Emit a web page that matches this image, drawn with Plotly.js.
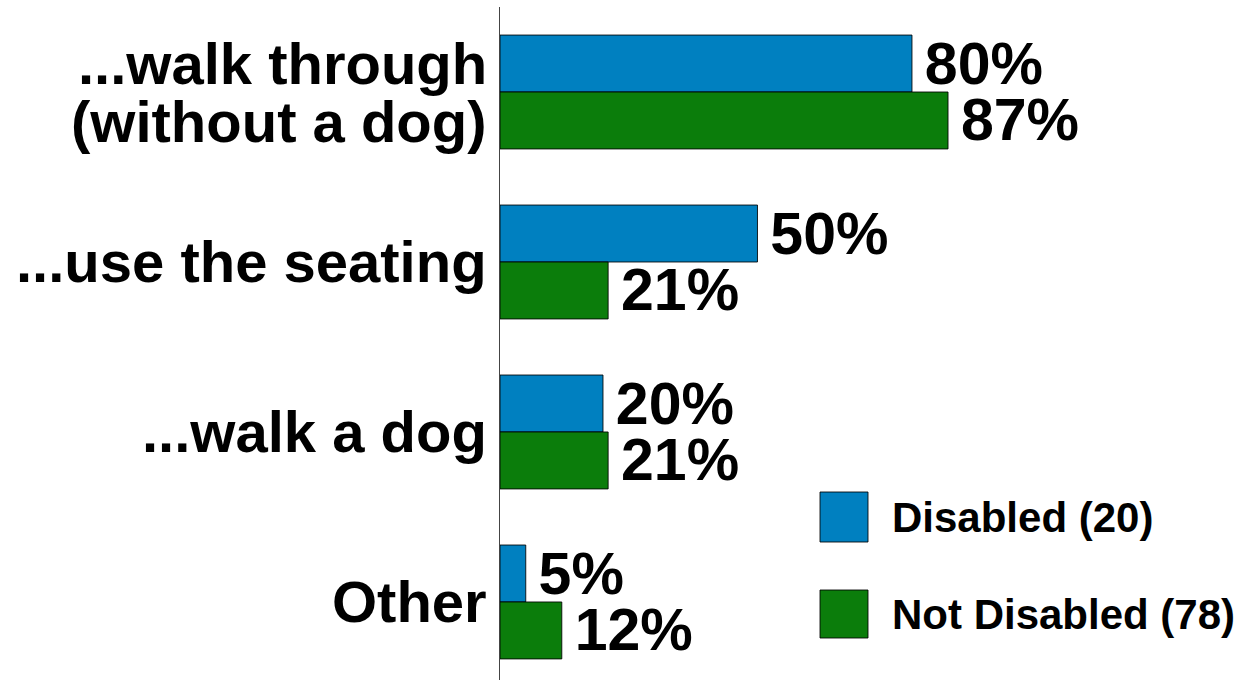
<!DOCTYPE html>
<html>
<head>
<meta charset="utf-8">
<script src="https://cdn.plot.ly/plotly-3.0.1.min.js"></script>
<style>html,body{margin:0;padding:0;background:#fff;}#chart{width:1240px;height:680px;}</style>
</head>
<body>
<div id="chart"></div>
<script>
// ---- data ----
var categories = ["walk_through", "seating", "walk_dog", "other"];
var categoryLabels = [["...walk through", "(without a dog)"], ["...use the seating"], ["...walk a dog"], ["Other"]];
var seriesNames = ["Disabled (20)", "Not Disabled (78)"];
var disabledValues = [80, 50, 20, 5];
var notDisabledValues = [87, 21, 21, 12];

// ---- style ----
var W = 1240, H = 680;
var M = {l: 500, r: 0, t: 7, b: 0};
var FONT = "Liberation Sans, Arial, Helvetica, sans-serif";
var colBlue = "rgb(0,128,192)";
var colGreen = "rgb(11,125,11)";
function px2x(p) { return (p - M.l) / (W - M.l - M.r); }
function px2y(p) { return 1 - (p - M.t) / (H - M.t - M.b); }

function mkTrace(name, vals, color) {
  return {
    type: "bar", orientation: "h", name: name,
    y: categories, x: vals,
    marker: {color: color, line: {color: "rgba(0,0,0,0.85)", width: 1}},
    text: vals.map(function (v) { return "\u200A\u200A" + v + "%"; }),
    textposition: "outside", cliponaxis: false, constraintext: "none",
    textfont: {family: FONT, size: 59, color: "#000", weight: "bold"},
    hoverinfo: "none"
  };
}

var traces = [
  mkTrace(seriesNames[0], disabledValues, colBlue),
  mkTrace(seriesNames[1], notDisabledValues, colGreen)
];

var annotations = [];
categories.forEach(function (c, i) {
  var lines = categoryLabels[i];
  var n = lines.length;
  lines.forEach(function (t, j) {
    annotations.push({
      text: t, xref: "paper", x: 0, xanchor: "right", xshift: -11,
      yref: "y", y: c, yanchor: "middle", yshift: ((n - 1) / 2 - j) * 58,
      showarrow: false, font: {family: FONT, size: 58, color: "#000", weight: "bold"}
    });
  });
});

// legend (drawn manually for large swatches)
var legendRows = [{y0: 492, y1: 542, color: colBlue}, {y0: 590, y1: 638, color: colGreen}];
var shapes = [];
legendRows.forEach(function (r, i) {
  shapes.push({type: "rect", xref: "paper", yref: "paper",
    x0: px2x(820), x1: px2x(868), y0: px2y(r.y1), y1: px2y(r.y0),
    fillcolor: r.color, line: {color: "rgba(0,0,0,0.85)", width: 1}});
  annotations.push({text: seriesNames[i], xref: "paper", yref: "paper",
    x: px2x(890), y: px2y((r.y0 + r.y1) / 2), xanchor: "left", yanchor: "middle",
    showarrow: false, font: {family: FONT, size: 42, color: "#000", weight: "bold"}});
});

var layout = {
  width: W, height: H, margin: M,
  paper_bgcolor: "#fff", plot_bgcolor: "#fff",
  showlegend: false, barmode: "group", bargap: 0.33, bargroupgap: 0,
  xaxis: {range: [0, 143.7], visible: false, fixedrange: true},
  yaxis: {type: "category", range: [3.459, -0.5], showticklabels: false, ticks: "",
          showgrid: false, zeroline: false, showline: true, linecolor: "#444", linewidth: 1, fixedrange: true},
  annotations: annotations, shapes: shapes,
  font: {family: FONT}
};

Plotly.newPlot("chart", traces, layout, {displayModeBar: false, staticPlot: true});
</script>
</body>
</html>
